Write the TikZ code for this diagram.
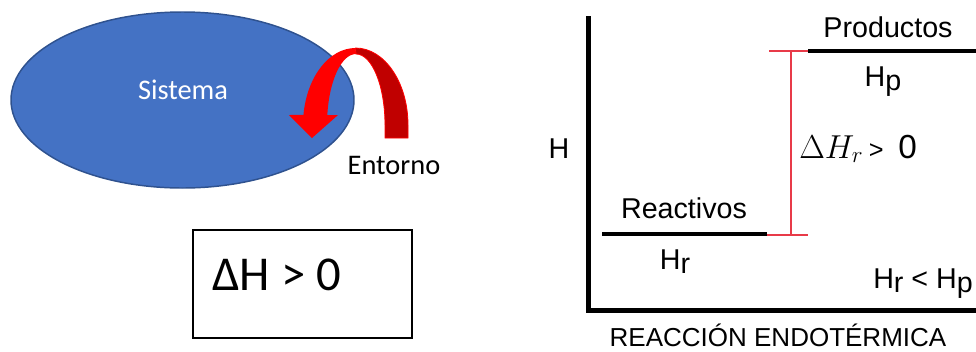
\documentclass[tikz,border=0pt]{standalone}
\usepackage{fontspec}
\setmainfont{Carlito}
\newfontfamily\arial{Liberation Sans}
\definecolor{sisblue}{RGB}{68,114,196}
\definecolor{sisedge}{RGB}{47,82,143}
\definecolor{backred}{RGB}{192,0,0}
\definecolor{barred}{RGB}{232,58,72}
\begin{document}
\begin{tikzpicture}[x=0.75pt, y=-0.75pt,
    txt/.style={inner sep=0pt, font=\fontsize{21.3}{25}\selectfont},
    lbl/.style={inner sep=0pt, font=\arial\fontsize{21.5}{26}\selectfont},
    level/.style={line width=3pt},
    redbar/.style={barred, line width=1.1pt}]
\useasboundingbox (0,0) rectangle (976,351);
% sistema y entorno
\draw[fill=sisblue, draw=sisedge, line width=1.1pt] (182.5,100) ellipse [x radius=171.5, y radius=88];
\node[txt, text=white, anchor=base] (sis) at (183,99) {Sistema};
\draw[fill=backred, draw=red, line width=.6pt] (355.5,48) arc[start angle=270, end angle=360, x radius=52.5, y radius=77]
    -- (408,138) -- (385,138) -- (385,125) arc[start angle=0, end angle=-90, x radius=29, y radius=71] -- cycle;
\fill[red] (355.5,48) arc[start angle=270, end angle=187.5, x radius=52.5, y radius=77]
    -- (289,115) -- (312,138) -- (338,115) -- (327.3,115)
    arc[start angle=188.1, end angle=270, x radius=29, y radius=71] -- cycle;
\node[txt, anchor=base] (ent) at (394,174) {Entorno};
\draw[line width=.9pt] (193,230) rectangle (412,338);
\node[inner sep=0pt, anchor=base west, font=\fontsize{36.5}{44}\selectfont] (dh) at (212,290) {ΔH > 0};

% diagrama de entalpia
\draw[line width=3.75pt, line join=miter] (588,16) -- (588,310) -- (976,310);
\coordinate (r1) at (602,234); \coordinate (r2) at (767,234);
\coordinate (p1) at (808,51); \coordinate (p2) at (976,51);
\draw[level] (r1) -- (r2);
\draw[level] (p1) -- (p2);
\coordinate (t1) at (791,51); \coordinate (t2) at (791,235);
\draw[redbar] (t1) -- (t2);
\draw[redbar] (769,51) -- (p1);
\draw[redbar] (r2) ++(0,1) -- (808,235);
\node[lbl, anchor=base] (hax) at (559,158) {H};
\node[lbl, anchor=base] (reac) at (684,218) {Reactivos};
\node[lbl, anchor=base] (hr) at (675,269) {H\raisebox{-.3ex}{r}};
\node[lbl, anchor=base] (prod) at (888,37) {Productos};
\node[lbl, anchor=base] (hp) at (883,86) {H\raisebox{-.3ex}{p}};
\node[lbl, anchor=base west] (dhr) at (799,158) {\fontsize{25}{30}\selectfont$\Delta H_r$\,{\fontsize{19}{24}\selectfont>}\, 0};
\node[lbl, anchor=base west] (cmp) at (873,288) {H\raisebox{-.3ex}{r} < H\raisebox{-.3ex}{p}};
\node[lbl, anchor=base] (tit) at (778,346.5) {\fontsize{19.5}{24}\selectfont REACCIÓN ENDOTÉRMICA};
\end{tikzpicture}
\end{document}
